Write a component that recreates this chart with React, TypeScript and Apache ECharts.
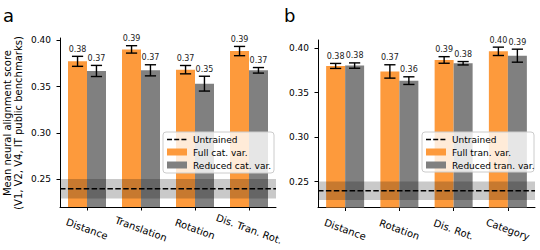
import React, { useEffect, useRef } from "react";
import * as echarts from "echarts";

const categoriesA = ["Distance", "Translation", "Rotation", "Dis. Tran. Rot."];
const fullA = [0.3773, 0.3902, 0.3683, 0.3884];
const fullErrA = [0.0054, 0.004, 0.0045, 0.005];
const reducedA = [0.3669, 0.3676, 0.3532, 0.3676];
const reducedErrA = [0.006, 0.006, 0.008, 0.003];

const categoriesB = ["Distance", "Rotation", "Dis. Rot.", "Category"];
const fullB = [0.3799, 0.3737, 0.3866, 0.3963];
const fullErrB = [0.0028, 0.0075, 0.0037, 0.0047];
const reducedB = [0.3803, 0.3634, 0.3829, 0.3914];
const reducedErrB = [0.003, 0.0043, 0.0019, 0.0073];

const untrained = 0.2398;
const untrainedErr = 0.0105;

const legendA = ["Untrained", "Full cat. var.", "Reduced cat. var."];
const legendB = ["Untrained", "Full tran. var.", "Reduced tran. var."];
const yTicks = [0.25, 0.3, 0.35, 0.4];
const yLabel1 = "Mean neural alignment score";
const yLabel2 = "(V1, V2, V4, IT public benchmarks)";

const FONT = "DejaVu Sans";
const ORANGE = "#fd9a3c";
const GREY = "#808080";

function errRender(params: any, api: any) {
  const idx = api.value(0);
  const v = api.value(1);
  const e = api.value(2);
  const s = api.value(3);
  const c = api.coord([idx, v]);
  const bw = api.size([1, 0])[0];
  const x = c[0] + s * bw * 0.175;
  const yTop = api.coord([idx, v + e])[1];
  const yBot = api.coord([idx, v - e])[1];
  const cap = 5.6;
  const ls = { stroke: "#000", lineWidth: 1.4 };
  return {
    type: "group",
    children: [
      { type: "line", shape: { x1: x, y1: yTop, x2: x, y2: yBot }, style: ls },
      { type: "line", shape: { x1: x - cap, y1: yTop, x2: x + cap, y2: yTop }, style: ls },
      { type: "line", shape: { x1: x - cap, y1: yBot, x2: x + cap, y2: yBot }, style: ls },
      {
        type: "text",
        x: x,
        y: yTop - 3,
        style: {
          text: v.toFixed(2),
          textAlign: "center",
          textVerticalAlign: "bottom",
          fontSize: 8,
          fontFamily: FONT,
          fill: "#222",
        },
      },
    ],
  };
}

function bandRender(params: any, api: any) {
  const cs = params.coordSys;
  const u = api.value(1);
  const e = api.value(2);
  const yHi = api.coord([0, u + e])[1];
  const yLo = api.coord([0, u - e])[1];
  const yMid = api.coord([0, u])[1];
  return {
    type: "group",
    children: [
      {
        type: "rect",
        shape: { x: cs.x, y: yHi, width: cs.width, height: yLo - yHi },
        style: { fill: "rgba(0,0,0,0.21)" },
      },
      {
        type: "line",
        shape: { x1: cs.x, y1: yMid, x2: cs.x + cs.width, y2: yMid },
        style: { stroke: "#000", lineWidth: 1.5, lineDash: [5.5, 2.4] },
      },
    ],
  };
}

function legendGraphic(x: number, y: number, w: number, h: number, labels: string[]) {
  const hx = x + 4;
  return {
    type: "group",
    z: 100,
    children: [
      {
        type: "rect",
        shape: { x, y, width: w, height: h, r: 3 },
        style: { fill: "rgba(255,255,255,0.8)", stroke: "#cccccc", lineWidth: 1 },
        z: 100,
      },
      {
        type: "line",
        shape: { x1: hx, y1: y + 7.5, x2: hx + 20, y2: y + 7.5 },
        style: { stroke: "#000", lineWidth: 1.5, lineDash: [5, 2.2] },
        z: 101,
      },
      {
        type: "rect",
        shape: { x: hx, y: y + 16.5, width: 20, height: 7 },
        style: { fill: ORANGE },
        z: 101,
      },
      {
        type: "rect",
        shape: { x: hx, y: y + 29.5, width: 20, height: 7 },
        style: { fill: GREY },
        z: 101,
      },
      ...labels.map((t, i) => ({
        type: "text",
        x: hx + 26,
        y: y + 7.5 + i * 13,
        z: 101,
        style: {
          text: t,
          textAlign: "left",
          textVerticalAlign: "middle",
          fontSize: 9,
          fontFamily: FONT,
          fill: "#000",
        },
      })),
    ],
  };
}

function xAxisCfg(idx: number, cats: string[]) {
  return {
    type: "category",
    gridIndex: idx,
    data: cats,
    boundaryGap: true,
    axisLine: { show: true, onZero: false, lineStyle: { color: "#000", width: 1 } },
    axisTick: { show: true, alignWithLabel: true, length: 3.5, lineStyle: { color: "#000" } },
    axisLabel: {
      rotate: -20,
      align: "center",
      verticalAlign: "middle",
      margin: 22,
      fontSize: 10,
      fontFamily: FONT,
      color: "#000",
      interval: 0,
    },
    splitLine: { show: false },
  };
}

function yAxisCfg(idx: number, min: number, max: number) {
  return {
    type: "value",
    gridIndex: idx,
    min,
    max,
    axisLine: { show: true, onZero: false, lineStyle: { color: "#000", width: 1 } },
    axisTick: { show: true, length: 3.5, customValues: yTicks, lineStyle: { color: "#000" } },
    axisLabel: {
      customValues: yTicks,
      formatter: (v: number) => v.toFixed(2),
      fontSize: 9,
      fontFamily: FONT,
      color: "#000",
      margin: 9,
    },
    splitLine: { show: false },
  };
}

function panelSeries(idx: number, full: number[], fullErr: number[], red: number[], redErr: number[]) {
  return [
    {
      type: "bar",
      xAxisIndex: idx,
      yAxisIndex: idx,
      data: full,
      barWidth: 19,
      barGap: "0%",
      itemStyle: { color: ORANGE },
      z: 2,
    },
    {
      type: "bar",
      xAxisIndex: idx,
      yAxisIndex: idx,
      data: red,
      barWidth: 19,
      barGap: "0%",
      itemStyle: { color: GREY },
      z: 2,
    },
    {
      type: "custom",
      xAxisIndex: idx,
      yAxisIndex: idx,
      renderItem: bandRender,
      data: [[0, untrained, untrainedErr]],
      z: 3,
      silent: true,
    },
    {
      type: "custom",
      xAxisIndex: idx,
      yAxisIndex: idx,
      renderItem: errRender,
      data: [
        ...full.map((v, i) => [i, v, fullErr[i], -1]),
        ...red.map((v, i) => [i, v, redErr[i], 1]),
      ],
      z: 4,
      silent: true,
    },
  ];
}

export default function App() {
  const ref = useRef<HTMLDivElement>(null);
  useEffect(() => {
    if (!ref.current) return;
    const chart = echarts.init(ref.current, null, { renderer: "svg" });
    chart.setOption({
      animation: false,
      backgroundColor: "#fff",
      grid: [
        { left: 60, top: 38, width: 216, height: 169 },
        { left: 318, top: 40, width: 217, height: 167.5 },
      ],
      xAxis: [xAxisCfg(0, categoriesA), xAxisCfg(1, categoriesB)],
      yAxis: [yAxisCfg(0, 0.22, 0.4025), yAxisCfg(1, 0.221, 0.409)],
      series: [
        ...panelSeries(0, fullA, fullErrA, reducedA, reducedErrA),
        ...panelSeries(1, fullB, fullErrB, reducedB, reducedErrB),
      ],
      graphic: [
        legendGraphic(163, 132, 111, 41, legendA),
        legendGraphic(422, 132, 112, 40, legendB),
        {
          type: "text",
          x: 3,
          y: 24,
          style: { text: "a", fontSize: 18, fontFamily: FONT, fill: "#000", textVerticalAlign: "bottom" },
        },
        {
          type: "text",
          x: 284,
          y: 24,
          style: { text: "b", fontSize: 18, fontFamily: FONT, fill: "#000", textVerticalAlign: "bottom" },
        },
        {
          type: "text",
          x: 7,
          y: 123,
          rotation: Math.PI / 2,
          style: {
            text: yLabel1,
            fontSize: 10,
            fontFamily: FONT,
            fill: "#000",
            textAlign: "center",
            textVerticalAlign: "middle",
          },
        },
        {
          type: "text",
          x: 18.5,
          y: 123,
          rotation: Math.PI / 2,
          style: {
            text: yLabel2,
            fontSize: 10,
            fontFamily: FONT,
            fill: "#000",
            textAlign: "center",
            textVerticalAlign: "middle",
          },
        },
      ],
    });
    return () => chart.dispose();
  }, []);
  return <div ref={ref} style={{ width: 540, height: 250, position: "absolute", left: 0, top: 0 }} />;
}
